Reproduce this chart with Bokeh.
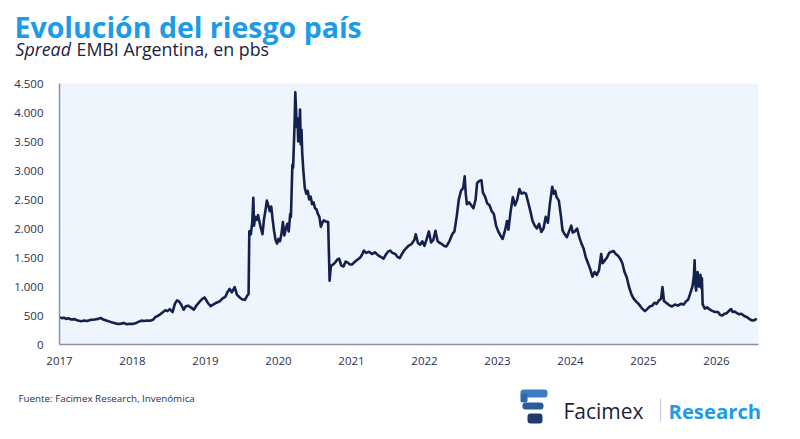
from bokeh.plotting import figure
from bokeh.layouts import column
from bokeh.models import Range1d, FixedTicker, ColumnDataSource, Label
from bokeh.embed import file_html
from bokeh.resources import INLINE

years = [
    2017.00, 2017.03, 2017.06, 2017.09, 2017.12, 2017.16, 2017.20, 2017.25, 2017.30, 2017.34,
    2017.38, 2017.43, 2017.48, 2017.53, 2017.57, 2017.60, 2017.65, 2017.70, 2017.75, 2017.80,
    2017.84, 2017.88, 2017.92, 2017.96, 2018.00, 2018.04, 2018.08, 2018.12, 2018.16, 2018.20,
    2018.24, 2018.28, 2018.31, 2018.34, 2018.38, 2018.42, 2018.45, 2018.48, 2018.51, 2018.55,
    2018.58, 2018.61, 2018.64, 2018.67, 2018.70, 2018.73, 2018.76, 2018.80, 2018.84, 2018.88,
    2018.92, 2018.96, 2018.99, 2019.03, 2019.07, 2019.11, 2019.15, 2019.19, 2019.23, 2019.27,
    2019.30, 2019.33, 2019.36, 2019.40, 2019.43, 2019.46, 2019.50, 2019.54, 2019.57, 2019.59,
    2019.60, 2019.62, 2019.64, 2019.655, 2019.665, 2019.68, 2019.70, 2019.72, 2019.75, 2019.78,
    2019.80, 2019.82, 2019.84, 2019.86, 2019.88, 2019.90, 2019.92, 2019.94, 2019.96, 2019.98,
    2020.00, 2020.02, 2020.04, 2020.06, 2020.08, 2020.10, 2020.12, 2020.14, 2020.16, 2020.17,
    2020.19, 2020.20, 2020.22, 2020.23, 2020.24, 2020.25, 2020.26, 2020.27, 2020.285, 2020.295,
    2020.305, 2020.315, 2020.325, 2020.34, 2020.36, 2020.38, 2020.40, 2020.42, 2020.44, 2020.46,
    2020.48, 2020.50, 2020.52, 2020.54, 2020.56, 2020.58, 2020.60, 2020.62, 2020.65, 2020.68,
    2020.69, 2020.70, 2020.71, 2020.72, 2020.75, 2020.78, 2020.81, 2020.83, 2020.86, 2020.89,
    2020.92, 2020.95, 2020.98, 2021.01, 2021.04, 2021.08, 2021.12, 2021.15, 2021.17, 2021.20,
    2021.24, 2021.28, 2021.32, 2021.36, 2021.40, 2021.44, 2021.47, 2021.50, 2021.53, 2021.56,
    2021.60, 2021.63, 2021.66, 2021.69, 2021.72, 2021.75, 2021.78, 2021.82, 2021.86, 2021.88,
    2021.91, 2021.94, 2021.97, 2022.00, 2022.03, 2022.06, 2022.09, 2022.12, 2022.15, 2022.18,
    2022.21, 2022.24, 2022.27, 2022.30, 2022.34, 2022.38, 2022.41, 2022.44, 2022.47, 2022.50,
    2022.53, 2022.55, 2022.565, 2022.58, 2022.61, 2022.64, 2022.67, 2022.70, 2022.72, 2022.75,
    2022.78, 2022.80, 2022.83, 2022.86, 2022.89, 2022.92, 2022.95, 2022.98, 2023.01, 2023.04,
    2023.07, 2023.10, 2023.13, 2023.15, 2023.18, 2023.21, 2023.24, 2023.27, 2023.30, 2023.33,
    2023.36, 2023.39, 2023.42, 2023.45, 2023.48, 2023.51, 2023.54, 2023.57, 2023.60, 2023.63,
    2023.66, 2023.69, 2023.72, 2023.75, 2023.77, 2023.79, 2023.81, 2023.84, 2023.87, 2023.89,
    2023.92, 2023.95, 2023.98, 2024.01, 2024.03, 2024.06, 2024.09, 2024.12, 2024.15, 2024.18,
    2024.21, 2024.24, 2024.27, 2024.30, 2024.33, 2024.36, 2024.39, 2024.42, 2024.44, 2024.47,
    2024.50, 2024.53, 2024.56, 2024.59, 2024.62, 2024.65, 2024.68, 2024.71, 2024.74, 2024.77,
    2024.80, 2024.83, 2024.86, 2024.90, 2024.94, 2024.98, 2025.02, 2025.05, 2025.08, 2025.12,
    2025.15, 2025.18, 2025.21, 2025.24, 2025.26, 2025.28, 2025.31, 2025.35, 2025.39, 2025.43,
    2025.47, 2025.51, 2025.55, 2025.58, 2025.61, 2025.64, 2025.67, 2025.69, 2025.70, 2025.71,
    2025.72, 2025.74, 2025.76, 2025.78, 2025.79, 2025.80, 2025.81, 2025.84, 2025.87, 2025.90,
    2025.94, 2025.98, 2026.02, 2026.05, 2026.08, 2026.11, 2026.14, 2026.17, 2026.20, 2026.22,
    2026.25, 2026.28, 2026.31, 2026.34, 2026.38, 2026.42, 2026.46, 2026.49, 2026.52, 2026.55,
]

embi = [
    470, 455, 462, 440, 452, 430, 438, 415, 400, 412,
    405, 425, 430, 442, 455, 430, 410, 390, 372, 352,
    360, 372, 350, 358, 352, 365, 390, 412, 405, 415,
    410, 425, 470, 490, 520, 560, 590, 575, 610, 560,
    700, 760, 740, 680, 600, 660, 670, 640, 600, 680,
    740, 790, 810, 720, 660, 690, 720, 740, 790, 820,
    900, 960, 900, 990, 860, 820, 780, 770, 840, 870,
    1950, 1900, 2100, 2530, 2050, 2200, 2150, 2230, 2050, 1900,
    2150, 2300, 2480, 2400, 2300, 2380, 2150, 1950, 1800, 1740,
    1820, 1780, 1900, 2110, 1880, 2000, 2080, 1950, 2250, 2200,
    3100, 3050, 3800, 4350, 4050, 3750, 3900, 3500, 3650, 4050,
    3450, 3700, 3300, 3000, 2700, 2600, 2650, 2500, 2550, 2420,
    2450, 2350, 2330, 2250, 2200, 2030, 2100, 2140, 2120, 2110,
    1600, 1100, 1250, 1360, 1380, 1420, 1470, 1480, 1360, 1345,
    1430, 1410, 1380, 1380, 1420, 1460, 1500, 1560, 1620, 1580,
    1600, 1560, 1590, 1540, 1510, 1480, 1550, 1600, 1620, 1580,
    1560, 1510, 1490, 1560, 1620, 1660, 1700, 1730, 1800, 1900,
    1750, 1720, 1780, 1700, 1820, 1950, 1760, 1800, 1960, 1780,
    1750, 1730, 1700, 1690, 1780, 1900, 1950, 2200, 2500, 2650,
    2700, 2900, 2600, 2420, 2450, 2400, 2350, 2500, 2780, 2820,
    2830, 2620, 2550, 2430, 2400, 2300, 2250, 2050, 1950, 1880,
    1820, 1950, 2130, 1980, 2300, 2540, 2400, 2500, 2680, 2600,
    2620, 2600, 2450, 2300, 2130, 2050, 2000, 2080, 1940, 2000,
    2200, 2100, 2450, 2720, 2600, 2650, 2540, 2480, 2200, 1970,
    1900, 1850, 1950, 2050, 1930, 1950, 2000, 1850, 1740, 1650,
    1500, 1400, 1300, 1170, 1250, 1200, 1280, 1560, 1400, 1450,
    1500, 1580, 1600, 1610, 1560, 1530, 1480, 1400, 1250, 1160,
    1000, 880, 800, 740, 690, 620, 575, 610, 650, 670,
    720, 700, 760, 790, 990, 750, 720, 680, 655, 690,
    670, 700, 690, 740, 770, 880, 1000, 1180, 1450, 1050,
    930, 1250, 1000, 1200, 980, 1140, 690, 620, 640, 610,
    580, 560, 560, 510, 500, 530, 540, 580, 610, 560,
    570, 540, 520, 530, 490, 470, 430, 415, 420, 445,
]

x_ticks = [2017, 2018, 2019, 2020, 2021, 2022, 2023, 2024, 2025, 2026]
x_tick_labels = ["2017", "2018", "2019", "2020", "2021", "2022", "2023", "2024", "2025", "2026"]
y_ticks = [0, 500, 1000, 1500, 2000, 2500, 3000, 3500, 4000, 4500]
y_tick_labels = ["0", "500", "1.000", "1.500", "2.000", "2.500", "3.000", "3.500", "4.000", "4.500"]

title_text = "Evolución del riesgo país"
subtitle_italic = "Spread"
subtitle_rest = "EMBI Argentina, en pbs"
source_text = "Fuente: Facimex Research, Invenómica"
brand_text = "Facimex"
brand_unit = "Research"

NAVY = "#14214d"
BLUE = "#1d9be6"
TEXT = "#2a3152"
W = 792
LEFT, RIGHT = 59, 34          # chart frame from page x 59 to 758
TOP, BOTTOM_B = 10, 30


def blank(h):
    # header / footer panels: frame covers the whole panel, page pixel coordinates
    f = figure(width=W, height=h, output_backend="svg", toolbar_location=None,
               x_range=Range1d(0, W), y_range=Range1d(h, 0),
               x_axis_type=None, y_axis_type=None, frame_align=False,
               min_border_left=0, min_border_right=0,
               min_border_top=0, min_border_bottom=0)
    f.outline_line_color = None
    f.grid.visible = False
    f.background_fill_color = "white"
    f.border_fill_color = "white"
    return f


def lab(f, x, y, text, size, color, style="normal"):
    f.add_layout(Label(x=x, y=y, text=text, text_font="Open Sans", text_font_style=style,
                       text_font_size=size, text_color=color, text_baseline="alphabetic"))


# ---- header ----
HEAD_H = 73
head = blank(HEAD_H)
lab(head, 14, 26, title_text, "28.5px", BLUE, "bold")
lab(head, 15, 48, subtitle_italic, "17.8px", "#1b2340", "italic")
lab(head, 76, 48, subtitle_rest, "17.8px", "#1b2340")

# ---- main chart ----
p = figure(width=W, height=TOP + 261 + BOTTOM_B, output_backend="svg", toolbar_location=None,
           x_range=Range1d(2017, 2026.575), y_range=Range1d(0, 4500), frame_align=False,
           min_border_left=LEFT, min_border_right=RIGHT,
           min_border_top=TOP, min_border_bottom=BOTTOM_B)
p.background_fill_color = "#eef5fc"
p.border_fill_color = "white"
p.outline_line_color = None
p.xgrid.grid_line_color = None
p.ygrid.grid_line_color = None

src = ColumnDataSource(dict(x=years, y=embi))
p.line("x", "y", source=src, line_color=NAVY, line_width=2.6, line_join="round")

for ax in (p.xaxis[0], p.yaxis[0]):
    ax.axis_line_color = "#8c91a0"
    ax.axis_line_width = 1.5
    ax.major_tick_line_color = None
    ax.minor_tick_line_color = None
    ax.major_label_text_font = "Open Sans"
    ax.major_label_text_font_size = "11.5px"
    ax.major_label_text_color = TEXT

p.xaxis[0].ticker = FixedTicker(ticks=x_ticks)
p.xaxis[0].major_label_overrides = {t: l for t, l in zip(x_ticks, x_tick_labels)}
p.xaxis[0].major_label_standoff = 6
p.yaxis[0].ticker = FixedTicker(ticks=y_ticks)
p.yaxis[0].major_label_overrides = {t: l for t, l in zip(y_ticks, y_tick_labels)}
p.yaxis[0].major_label_standoff = 10

# ---- footer ----
FOOT_H = 439 - 8 - HEAD_H - (TOP + 261 + BOTTOM_B)
foot = blank(FOOT_H)
lab(foot, 18, 24, source_text, "9.8px", TEXT)
lab(foot, 563, 36, brand_text, "21px", "#1b2340")
lab(foot, 668, 36, brand_unit, "20.3px", BLUE, "bold")
foot.segment(x0=[660], y0=[24], x1=[660], y1=[47], line_color="#c9ccd3", line_width=1.2)
foot.quad(left=[520], right=[547], top=[15], bottom=[23], fill_color="#3b7fc2",
          line_color=None, border_radius=3)
foot.quad(left=[520], right=[527], top=[19], bottom=[28], fill_color="#2f68a8",
          line_color=None, border_radius=2)
foot.quad(left=[522], right=[543], top=[28], bottom=[35], fill_color="#2b5c9a",
          line_color=None, border_radius=3)
foot.quad(left=[527], right=[542], top=[39], bottom=[49], fill_color="#1f3b6d",
          line_color=None, border_radius=3)

layout = column(head, p, foot, spacing=0)
open("out.html", "w").write(file_html(layout, INLINE))
